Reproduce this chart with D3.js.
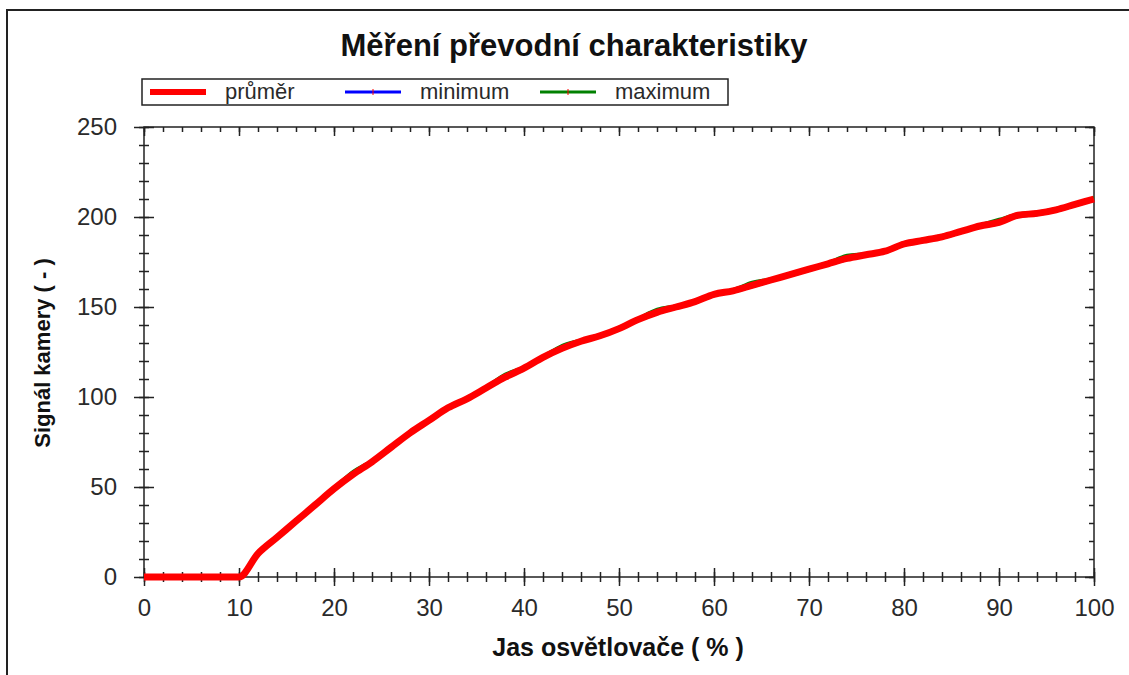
<!DOCTYPE html>
<html>
<head>
<meta charset="utf-8">
<script src="https://cdn.jsdelivr.net/npm/d3@7"></script>
<style>
    body { margin: 0; background: #fff; }
    svg text { font-family: "Liberation Sans", Arial, sans-serif; }
</style>
</head>
<body>
<svg id="chart"></svg>
<script>
const width = 1129;
const height = 675;

// Jas osvetlovace (%) and measured camera signal
const jas = [0, 2, 4, 6, 8, 10, 12, 14, 16, 18, 20, 22, 24, 26, 28, 30, 32, 34, 36, 38, 40,
    42, 44, 46, 48, 50, 52, 54, 56, 58, 60, 62, 64, 66, 68, 70, 72, 74, 76, 78, 80,
    82, 84, 86, 88, 90, 92, 94, 96, 98, 100];
const prumer = [0, 0, 0, 0, 0, 0, 13, 22, 31, 40, 49, 57, 64, 72, 80, 87, 94, 99, 105, 111, 116,
    122, 127, 131, 134, 138, 143, 147, 150, 153, 157, 159, 162, 165, 168, 171, 174, 177, 179, 181, 185,
    187, 189, 192, 195, 197, 201, 202, 204, 207, 210];
const minimum = [0, 0, 0, 0, 0, 0, 12, 21, 30, 39, 48, 56, 63, 71, 79, 86, 93, 98, 104, 110, 115,
    121, 126, 130, 133, 137, 142, 146, 149, 152, 156, 158, 161, 164, 167, 170, 173, 176, 178, 180, 184,
    186, 188, 191, 194, 196, 200, 201, 203, 206, 209];
const maximum = [0, 0, 0, 0, 0, 0, 14, 23, 32, 41, 50, 59, 65, 73, 81, 88, 95, 100, 106, 113, 117,
    123, 129, 132, 135, 139, 144, 149, 151, 154, 158, 160, 164, 166, 169, 172, 175, 179, 180, 182, 186,
    188, 190, 193, 196, 199, 202, 203, 205, 208, 211];

const xMajor = [0, 10, 20, 30, 40, 50, 60, 70, 80, 90, 100];
const xMinor = [0, 2, 4, 6, 8, 10, 12, 14, 16, 18, 20, 22, 24, 26, 28, 30, 32, 34, 36, 38, 40,
    42, 44, 46, 48, 50, 52, 54, 56, 58, 60, 62, 64, 66, 68, 70, 72, 74, 76, 78, 80,
    82, 84, 86, 88, 90, 92, 94, 96, 98, 100];
const yMajor = [0, 50, 100, 150, 200, 250];
const yMinor = [0, 10, 20, 30, 40, 50, 60, 70, 80, 90, 100, 110, 120, 130, 140, 150,
    160, 170, 180, 190, 200, 210, 220, 230, 240, 250];

const series = [
    {name: 'průměr', values: prumer, color: '#ff0000', w: 7},
    {name: 'minimum', values: minimum, color: '#0000ff', w: 2},
    {name: 'maximum', values: maximum, color: '#008000', w: 2}
];

const pLeft = 144, pRight = 1094, pTop = 127, pBottom = 577;
const ink = '#222';

const svg = d3.select('#chart')
    .attr('width', width)
    .attr('height', height);

// outer frame
svg.append('rect')
    .attr('x', 7).attr('y', 10)
    .attr('width', 1200).attr('height', 1000)
    .attr('fill', 'none').attr('stroke', ink).attr('stroke-width', 2);

const x = d3.scaleLinear().domain([0, 100]).range([pLeft, pRight]);
const y = d3.scaleLinear().domain([0, 250]).range([pBottom, pTop]);

function tickAxis(axis, pos, size, values, labels) {
    const g = svg.append('g').attr('transform', pos)
        .call(axis.tickValues(values).tickSize(size).tickFormat(labels ? d3.format('d') : ''));
    g.select('.domain').remove();
    g.selectAll('line').attr('stroke', ink).attr('stroke-width', 1.5);
    return g;
}

// bottom axis, ticks cross the line
tickAxis(d3.axisBottom(x).tickPadding(13), `translate(0,${pBottom})`, 9, xMajor, true);
tickAxis(d3.axisTop(x), `translate(0,${pBottom})`, 9, xMajor, false);
tickAxis(d3.axisBottom(x), `translate(0,${pBottom})`, 5, xMinor, false);
tickAxis(d3.axisTop(x), `translate(0,${pBottom})`, 5, xMinor, false);

// left axis, ticks cross the line
tickAxis(d3.axisLeft(y).tickPadding(17), `translate(${pLeft},0)`, 10, yMajor, true);
tickAxis(d3.axisRight(y), `translate(${pLeft},0)`, 10, yMajor, false);
tickAxis(d3.axisLeft(y), `translate(${pLeft},0)`, 5, yMinor, false);
tickAxis(d3.axisRight(y), `translate(${pLeft},0)`, 5, yMinor, false);

// top and right, ticks inward
tickAxis(d3.axisBottom(x), `translate(0,${pTop})`, 9, xMajor, false);
tickAxis(d3.axisBottom(x), `translate(0,${pTop})`, 5, xMinor, false);
tickAxis(d3.axisLeft(y), `translate(${pRight},0)`, 9, yMajor, false);
tickAxis(d3.axisLeft(y), `translate(${pRight},0)`, 5, yMinor, false);

svg.selectAll('.tick text')
    .attr('fill', '#2a2a2a')
    .style('font-size', '24px');

svg.append('rect')
    .attr('x', pLeft).attr('y', pTop)
    .attr('width', pRight - pLeft).attr('height', pBottom - pTop)
    .attr('fill', 'none').attr('stroke', ink).attr('stroke-width', 1.5);

// lines: max and min first, mean on top
const line = d3.line().x((d, i) => x(jas[i])).y(d => y(d)).curve(d3.curveMonotoneX);

[series[2], series[1], series[0]].forEach(s => {
    svg.append('path')
        .datum(s.values)
        .attr('fill', 'none')
        .attr('stroke', s.color)
        .attr('stroke-width', s.w)
        .attr('stroke-linejoin', 'round')
        .attr('d', line);
});

// title and axis titles
svg.append('text')
    .attr('x', 574).attr('y', 56)
    .attr('text-anchor', 'middle')
    .style('font-size', '31px').style('font-weight', 'bold')
    .attr('fill', '#111')
    .text('Měření převodní charakteristiky');

svg.append('text')
    .attr('x', 618).attr('y', 656)
    .attr('text-anchor', 'middle')
    .style('font-size', '25px').style('font-weight', 'bold')
    .attr('fill', '#111')
    .text('Jas osvětlovače ( % )');

svg.append('text')
    .attr('transform', 'translate(50,353) rotate(-90)')
    .attr('text-anchor', 'middle')
    .style('font-size', '22px').style('font-weight', 'bold')
    .attr('fill', '#111')
    .text('Signál kamery ( - )');

// legend
const legend = svg.append('g');
legend.append('rect')
    .attr('x', 142).attr('y', 79)
    .attr('width', 586).attr('height', 26)
    .attr('fill', '#fff').attr('stroke', ink).attr('stroke-width', 1.5);

const legX = [150, 345, 540];
series.forEach((s, i) => {
    const lx = legX[i];
    legend.append('line')
        .attr('x1', lx).attr('x2', lx + 56)
        .attr('y1', 92).attr('y2', 92)
        .attr('stroke', s.color).attr('stroke-width', i == 0 ? 6 : 3);
    legend.append('line')
        .attr('x1', lx + 28).attr('x2', lx + 28)
        .attr('y1', 89).attr('y2', 95)
        .attr('stroke', '#ff0000').attr('stroke-width', 1);
    legend.append('text')
        .attr('x', lx + 75).attr('y', 99)
        .style('font-size', '22px')
        .attr('fill', '#2a2a2a')
        .text(s.name);
});
</script>
</body>
</html>
